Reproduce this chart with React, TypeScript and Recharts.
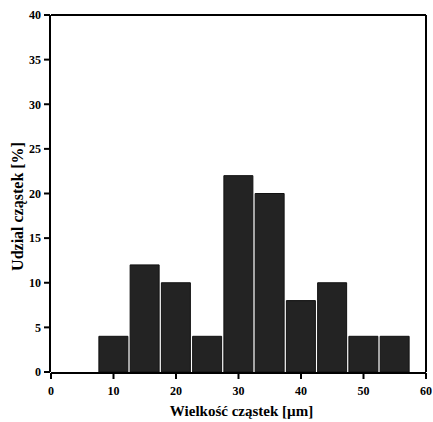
import React from 'react';
import { BarChart, Bar, XAxis, YAxis, Label } from 'recharts';

// histogram bins (centre of each 5 µm class) and their share in %
const binCentres = [10, 15, 20, 25, 30, 35, 40, 45, 50, 55];
const shares = [4, 12, 10, 4, 22, 20, 8, 10, 4, 4];

const xMajorTicks = [0, 10, 20, 30, 40, 50, 60];
const xMinorTicks = [5, 15, 25, 35, 45, 55];
const yMajorTicks = [0, 5, 10, 15, 20, 25, 30, 35, 40];
const yMinorTicks = [2.5, 7.5, 12.5, 17.5, 22.5, 27.5, 32.5, 37.5];

const data = binCentres.map((size, i) => ({ size, share: shares[i] }));

const FONT = '"Liberation Serif", "Times New Roman", serif';
const tickStyle = { fontFamily: FONT, fontWeight: 700, fontSize: 12, fill: '#000' };
const axisLine = { stroke: '#000', strokeWidth: 2 };
const tickLine = { stroke: '#000', strokeWidth: 2 };

const XTitle = ({ viewBox }: any) => (
  <text
    x={viewBox.x + viewBox.width / 2 + 3}
    y={viewBox.y + 38}
    textAnchor="middle"
    dominantBaseline="central"
    style={{ fontFamily: FONT, fontWeight: 700, fontSize: 15, fill: '#000' }}
  >
    Wielkość cząstek [µm]
  </text>
);

const YTitle = ({ viewBox }: any) => {
  const x = viewBox.x + 9;
  const y = viewBox.y + viewBox.height / 2 + 13;
  return (
    <text
      x={x}
      y={y}
      transform={`rotate(-90, ${x}, ${y})`}
      textAnchor="middle"
      dominantBaseline="central"
      style={{ fontFamily: FONT, fontWeight: 700, fontSize: 16, fill: '#000' }}
    >
      Udzial cząstek [%]
    </text>
  );
};

export default function App() {
  return (
    <div style={{ position: 'absolute', left: 0, top: 0, width: 433, height: 422 }}>
      <BarChart
        width={433}
        height={422}
        data={data}
        margin={{ top: 14, right: 6, left: 8, bottom: 8 }}
      >
        {/* minor ticks: thin axes sitting right on the frame */}
        <XAxis
          type="number"
          dataKey="size"
          domain={[0, 60]}
          allowDataOverflow
          ticks={xMinorTicks}
          height={1}
          axisLine={false}
          tick={false}
          tickSize={3}
          stroke="#000"
          tickLine={tickLine}
          interval={0}
        />
        <YAxis
          type="number"
          dataKey="share"
          domain={[0, 40]}
          allowDataOverflow
          ticks={yMinorTicks}
          width={1}
          axisLine={false}
          tick={false}
          tickSize={3}
          stroke="#000"
          tickLine={tickLine}
          interval={0}
        />
        <XAxis
          xAxisId="main"
          type="number"
          dataKey="size"
          domain={[0, 60]}
          allowDataOverflow
          ticks={xMajorTicks}
          height={41}
          stroke="#000"
          axisLine={axisLine}
          tickLine={tickLine}
          tickSize={6}
          tickMargin={7}
          tick={tickStyle}
          interval={0}
        >
          <Label content={<XTitle />} />
        </XAxis>
        <YAxis
          yAxisId="main"
          type="number"
          dataKey="share"
          domain={[0, 40]}
          allowDataOverflow
          ticks={yMajorTicks}
          width={42}
          stroke="#000"
          axisLine={axisLine}
          tickLine={tickLine}
          tickSize={6}
          tickMargin={3}
          tick={tickStyle}
          interval={0}
        >
          <Label content={<YTitle />} />
        </YAxis>
        {/* frame on top and right */}
        <XAxis
          xAxisId="top"
          orientation="top"
          type="number"
          dataKey="size"
          domain={[0, 60]}
          allowDataOverflow
          height={1}
          tick={false}
          tickLine={false}
          axisLine={axisLine}
        />
        <YAxis
          yAxisId="right"
          orientation="right"
          type="number"
          dataKey="share"
          domain={[0, 40]}
          allowDataOverflow
          width={1}
          tick={false}
          tickLine={false}
          axisLine={axisLine}
        />
        <Bar
          xAxisId="main"
          yAxisId="main"
          dataKey="share"
          barSize={29}
          fill="#232323"
          stroke="#111"
          strokeWidth={1}
          isAnimationActive={false}
        />
      </BarChart>
    </div>
  );
}
